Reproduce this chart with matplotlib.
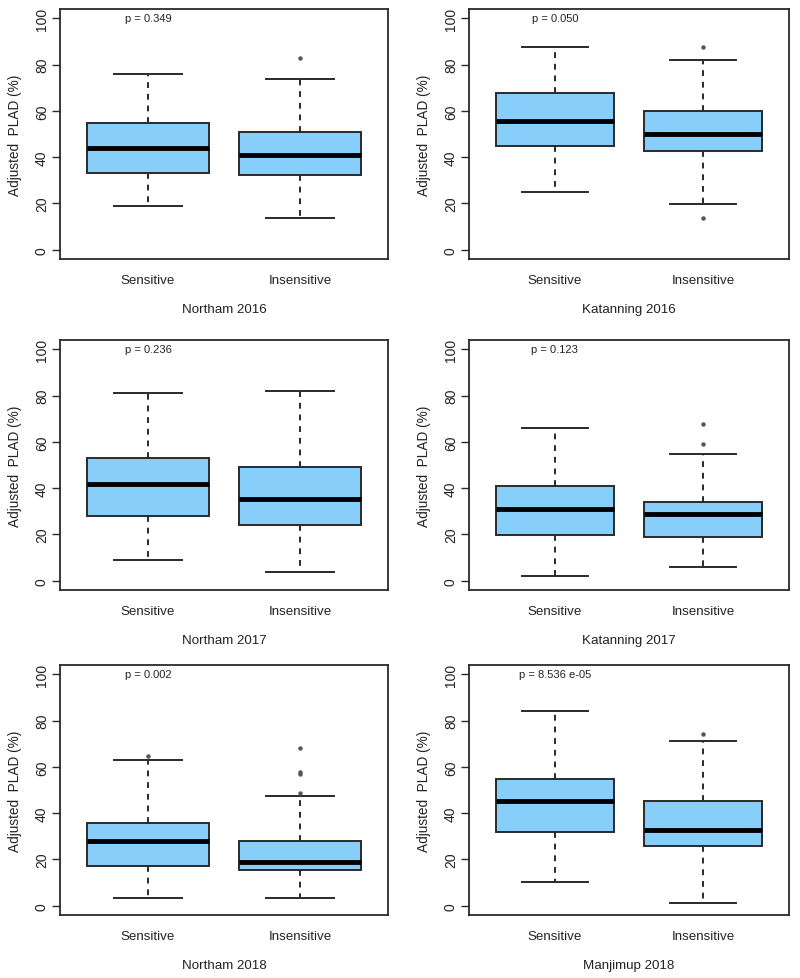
import matplotlib
matplotlib.use("Agg")
import matplotlib.pyplot as plt

plt.rcParams['font.family'] = ['Liberation Sans', 'DejaVu Sans']

groups = ["Sensitive", "Insensitive"]
sites = ["Northam 2016", "Katanning 2016", "Northam 2017",
         "Katanning 2017", "Northam 2018", "Manjimup 2018"]
p_labels = ["p = 0.349", "p = 0.050", "p = 0.236",
            "p = 0.123", "p = 0.002", "p = 8.536 e-05"]

# per group: lower whisker, Q1, median, Q3, upper whisker
northam_2016 = [[19, 33.2, 43.8, 54.8, 75.8], [13.8, 32.3, 40.8, 50.8, 73.7]]
katanning_2016 = [[25, 44.8, 55.5, 67.9, 87.8], [19.9, 42.7, 50, 59.8, 81.9]]
northam_2017 = [[8.8, 28, 41.8, 52.9, 81], [3.6, 24, 35.2, 49.3, 81.9]]
katanning_2017 = [[2.1, 19.8, 30.9, 40.9, 65.9], [6.1, 18.8, 28.9, 33.9, 54.8]]
northam_2018 = [[3.2, 17.3, 27.9, 35.9, 63], [3.2, 15.4, 18.9, 27.9, 47.2]]
manjimup_2018 = [[10.2, 31.9, 45.2, 54.8, 84.3], [1, 25.9, 32.9, 45.1, 71.1]]

outliers_northam_2016 = [[], [82.8]]
outliers_katanning_2016 = [[], [87.7, 13.8]]
outliers_northam_2017 = [[], []]
outliers_katanning_2017 = [[], [67.8, 58.9]]
outliers_northam_2018 = [[64.9], [68, 57.6, 56.8, 48.5]]
outliers_manjimup_2018 = [[], [74.2]]

all_stats = [northam_2016, katanning_2016, northam_2017,
             katanning_2017, northam_2018, manjimup_2018]
all_outliers = [outliers_northam_2016, outliers_katanning_2016, outliers_northam_2017,
                outliers_katanning_2017, outliers_northam_2018, outliers_manjimup_2018]

y_ticks = [0, 20, 40, 60, 80, 100]

fig = plt.figure(figsize=(8, 9.79), dpi=100)

lefts = [60 / 800, 469 / 800]
widths = [328 / 800, 320 / 800]
tops = [10, 341, 666]
height = 250 / 979

txt = "#222222"
edge = "#2a2a2a"

for i in range(6):
    row, col = i // 2, i % 2
    ax = fig.add_axes([lefts[col], 1 - (tops[row] + 250) / 979, widths[col], height])

    stats = []
    for j, g in enumerate(groups):
        lo, q1, med, q3, hi = all_stats[i][j]
        stats.append(dict(label=g, whislo=lo, q1=q1, med=med, q3=q3, whishi=hi,
                          fliers=all_outliers[i][j]))

    ax.bxp(stats, positions=[1, 2], widths=0.8, patch_artist=True,
           boxprops=dict(facecolor="#87CEFA", edgecolor=edge, linewidth=1.4),
           medianprops=dict(color="black", linewidth=3.5, solid_capstyle="butt"),
           whiskerprops=dict(color=edge, linewidth=1.4, linestyle=(0, (3, 3))),
           capprops=dict(color=edge, linewidth=1.4),
           capwidths=0.45,
           flierprops=dict(marker="o", markersize=2.2, markerfacecolor="#555555",
                           markeredgecolor="#555555"))

    ax.set_xlim(0.42, 2.58)
    ax.set_ylim(-4, 104)
    ax.set_yticks(y_ticks)
    ax.set_yticklabels([str(v) for v in y_ticks], rotation=90, va="center",
                       fontsize=10, color=txt)
    ax.tick_params(axis="y", length=6, width=1, color=edge, pad=2)
    ax.tick_params(axis="x", length=0, pad=11, labelsize=9.6, labelcolor=txt)
    ax.set_ylabel("Adjusted  PLAD (%)", fontsize=9.8, color=txt, labelpad=9)
    ax.set_xlabel(sites[i], fontsize=9.6, color=txt, labelpad=12)

    for s in ax.spines.values():
        s.set_color(edge)
        s.set_linewidth(1.3)

    ax.text(1, 100, p_labels[i], ha="center", va="center", fontsize=8, color=txt)

fig.savefig("out.png", dpi=100, facecolor="white")
